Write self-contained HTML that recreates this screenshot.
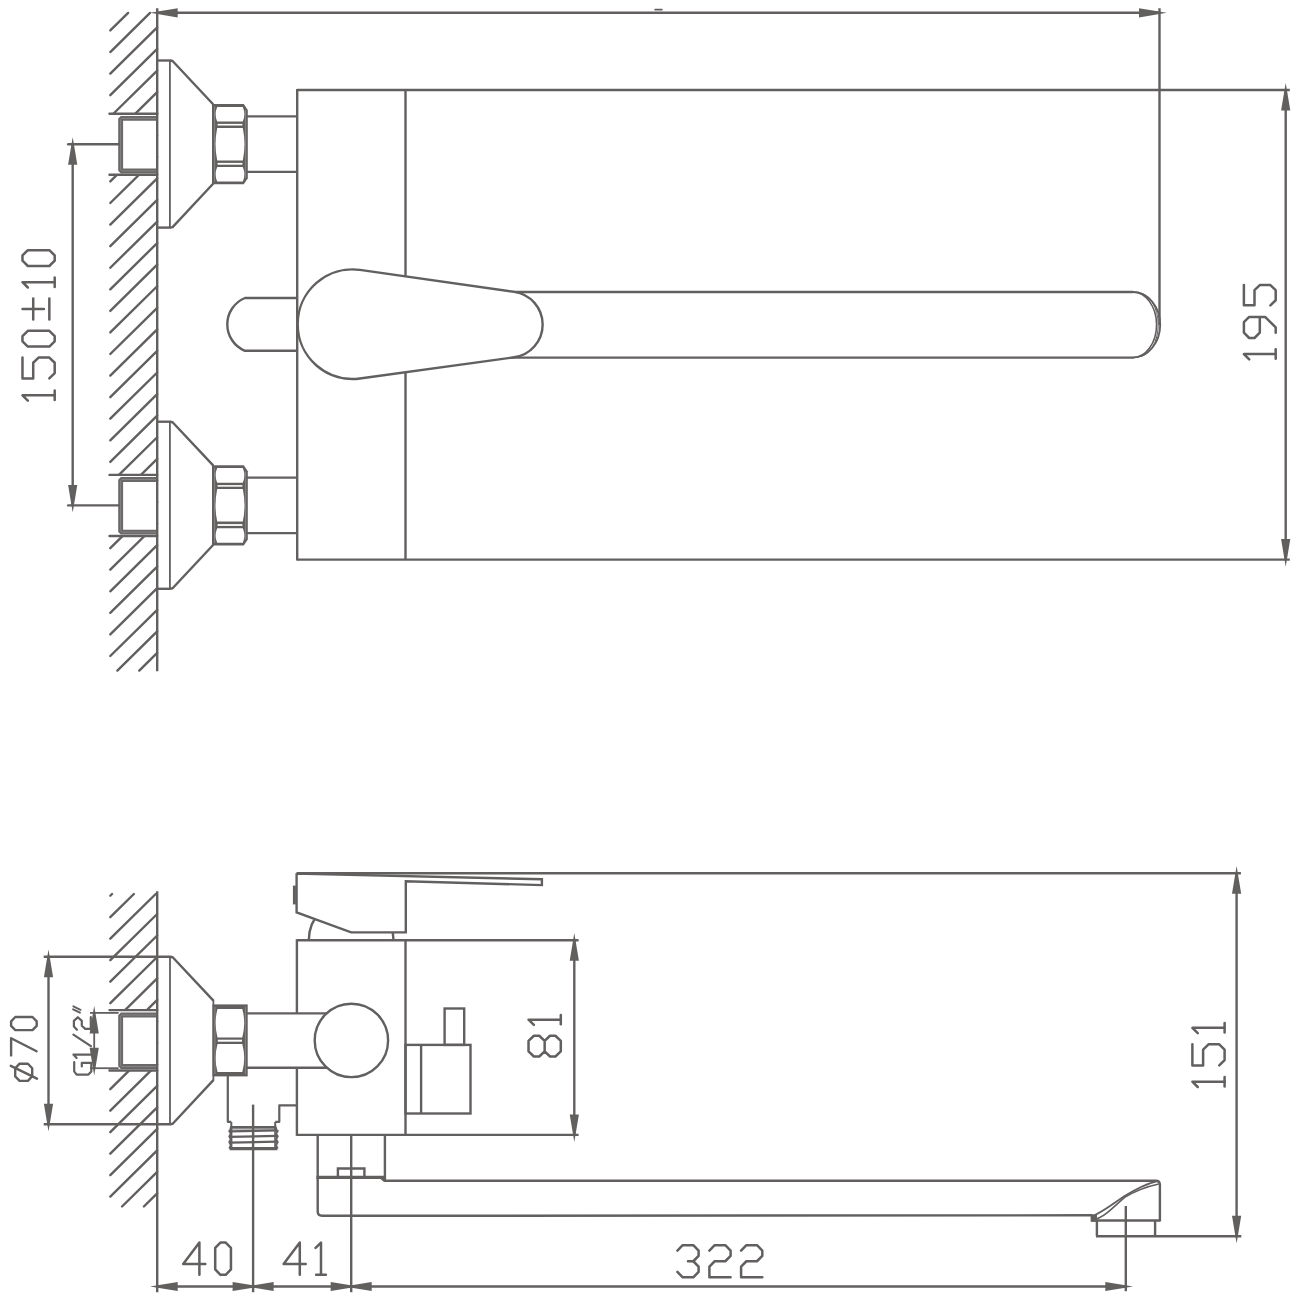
<!DOCTYPE html>
<html><head><meta charset="utf-8"><title>Drawing</title>
<style>
html,body{margin:0;padding:0;background:#fff;}
body{width:1300px;height:1300px;overflow:hidden;font-family:"Liberation Sans",sans-serif;}
svg{display:block;}
</style></head><body>
<svg width="1300" height="1300" viewBox="0 0 1300 1300" fill="none" stroke="#625f5f">
<rect x="0" y="0" width="1300" height="1300" fill="#fff" stroke="none"/>
<line x1="128.12" y1="12.90" x2="110.30" y2="30.46" stroke-width="2.4" stroke-linecap="round"/>
<line x1="150.02" y1="12.90" x2="110.30" y2="52.03" stroke-width="2.4" stroke-linecap="round"/>
<line x1="157.20" y1="27.40" x2="110.30" y2="73.60" stroke-width="2.4" stroke-linecap="round"/>
<line x1="157.20" y1="48.97" x2="110.30" y2="95.17" stroke-width="2.4" stroke-linecap="round"/>
<line x1="157.20" y1="70.54" x2="110.30" y2="116.74" stroke-width="2.4" stroke-linecap="round"/>
<line x1="157.20" y1="92.11" x2="110.30" y2="138.31" stroke-width="2.4" stroke-linecap="round"/>
<line x1="157.20" y1="113.68" x2="110.30" y2="159.88" stroke-width="2.4" stroke-linecap="round"/>
<line x1="157.20" y1="135.25" x2="110.30" y2="181.45" stroke-width="2.4" stroke-linecap="round"/>
<line x1="157.20" y1="156.82" x2="110.30" y2="203.02" stroke-width="2.4" stroke-linecap="round"/>
<line x1="157.20" y1="178.39" x2="110.30" y2="224.59" stroke-width="2.4" stroke-linecap="round"/>
<line x1="157.20" y1="199.96" x2="110.30" y2="246.16" stroke-width="2.4" stroke-linecap="round"/>
<line x1="157.20" y1="221.53" x2="110.30" y2="267.73" stroke-width="2.4" stroke-linecap="round"/>
<line x1="157.20" y1="243.10" x2="110.30" y2="289.30" stroke-width="2.4" stroke-linecap="round"/>
<line x1="157.20" y1="264.67" x2="110.30" y2="310.87" stroke-width="2.4" stroke-linecap="round"/>
<line x1="157.20" y1="286.24" x2="110.30" y2="332.44" stroke-width="2.4" stroke-linecap="round"/>
<line x1="157.20" y1="307.81" x2="110.30" y2="354.01" stroke-width="2.4" stroke-linecap="round"/>
<line x1="157.20" y1="329.38" x2="110.30" y2="375.58" stroke-width="2.4" stroke-linecap="round"/>
<line x1="157.20" y1="350.95" x2="110.30" y2="397.15" stroke-width="2.4" stroke-linecap="round"/>
<line x1="157.20" y1="372.52" x2="110.30" y2="418.72" stroke-width="2.4" stroke-linecap="round"/>
<line x1="157.20" y1="394.09" x2="110.30" y2="440.29" stroke-width="2.4" stroke-linecap="round"/>
<line x1="157.20" y1="415.66" x2="110.30" y2="461.86" stroke-width="2.4" stroke-linecap="round"/>
<line x1="157.20" y1="437.23" x2="110.30" y2="483.43" stroke-width="2.4" stroke-linecap="round"/>
<line x1="157.20" y1="458.80" x2="110.30" y2="505.00" stroke-width="2.4" stroke-linecap="round"/>
<line x1="157.20" y1="480.37" x2="110.30" y2="526.57" stroke-width="2.4" stroke-linecap="round"/>
<line x1="157.20" y1="501.94" x2="110.30" y2="548.14" stroke-width="2.4" stroke-linecap="round"/>
<line x1="157.20" y1="523.51" x2="110.30" y2="569.71" stroke-width="2.4" stroke-linecap="round"/>
<line x1="157.20" y1="545.08" x2="110.30" y2="591.28" stroke-width="2.4" stroke-linecap="round"/>
<line x1="157.20" y1="566.65" x2="110.30" y2="612.85" stroke-width="2.4" stroke-linecap="round"/>
<line x1="157.20" y1="588.22" x2="110.30" y2="634.42" stroke-width="2.4" stroke-linecap="round"/>
<line x1="157.20" y1="609.79" x2="110.30" y2="655.99" stroke-width="2.4" stroke-linecap="round"/>
<line x1="157.20" y1="631.36" x2="117.36" y2="670.60" stroke-width="2.4" stroke-linecap="round"/>
<line x1="157.20" y1="652.93" x2="139.26" y2="670.60" stroke-width="2.4" stroke-linecap="round"/>
<rect x="106.30" y="113.80" width="50.90" height="60.90" fill="#fff" stroke="none"/>
<line x1="109.50" y1="113.70" x2="157.20" y2="113.70" stroke-width="2.4" stroke-linecap="round"/>
<line x1="109.50" y1="174.80" x2="157.20" y2="174.80" stroke-width="2.4" stroke-linecap="round"/>
<path d="M157.2,118.35 L121.85,118.35 L120.65,119.55 L120.65,169.75 L121.85,170.95 L157.2,170.95" fill="none" stroke="#6a6868" stroke-width="4.9" stroke-linejoin="miter"/>
<path d="M157.2,118.35 L121.85,118.35 L120.65,119.55 L120.65,169.75 L121.85,170.95 L157.2,170.95" fill="none" stroke="#8a8888" stroke-width="0.9"/>
<line x1="68.20" y1="144.20" x2="118.80" y2="144.20" stroke-width="2.4" stroke-linecap="round"/>
<line x1="157.20" y1="60.50" x2="170.50" y2="60.50" stroke-width="2.4" stroke-linecap="butt"/>
<line x1="157.20" y1="227.60" x2="170.50" y2="227.60" stroke-width="2.4" stroke-linecap="butt"/>
<line x1="169.90" y1="60.50" x2="169.90" y2="227.60" stroke-width="1.8" stroke-linecap="butt"/>
<path d="M169.9,60.5 L172.6,61.0 L213.1,104.2" fill="none" stroke-width="2.4" stroke-linecap="butt" stroke-linejoin="round"/>
<path d="M169.9,227.6 L172.6,227.1 L213.1,183.8" fill="none" stroke-width="2.4" stroke-linecap="butt" stroke-linejoin="round"/>
<line x1="213.10" y1="103.40" x2="213.10" y2="184.60" stroke-width="1.8" stroke-linecap="butt"/>
<polygon points="212.0,104.00 243.8,104.00 247.8,110.00 247.8,178.30 243.8,184.30 212.0,184.30" fill="#625f5f" stroke="none"/>
<path d="M217.20,106.90 Q214.00,114.25 217.20,121.60 L242.80,121.60 Q246.00,114.25 242.80,106.90 Z" fill="#fff" stroke="none"/>
<path d="M217.20,127.90 Q213.80,144.15 217.20,160.40 L242.80,160.40 Q246.20,144.15 242.80,127.90 Z" fill="#fff" stroke="none"/>
<path d="M217.20,167.00 Q214.00,174.30 217.20,181.60 L242.80,181.60 Q246.00,174.30 242.80,167.00 Z" fill="#fff" stroke="none"/>
<rect x="217.60" y="123.90" width="24.80" height="1.60" fill="#fff" stroke="none"/>
<rect x="217.60" y="162.90" width="24.80" height="1.80" fill="#fff" stroke="none"/>
<line x1="214.60" y1="106.50" x2="214.60" y2="181.80" stroke="#9a9898" stroke-width="0.7"/>
<line x1="245.60" y1="110.00" x2="245.60" y2="178.30" stroke="#9a9898" stroke-width="0.7"/>
<line x1="246.60" y1="116.40" x2="297.20" y2="116.40" stroke-width="2.4" stroke-linecap="butt"/>
<line x1="246.60" y1="171.90" x2="297.20" y2="171.90" stroke-width="2.4" stroke-linecap="butt"/>
<rect x="106.30" y="475.00" width="50.90" height="60.90" fill="#fff" stroke="none"/>
<line x1="109.50" y1="474.90" x2="157.20" y2="474.90" stroke-width="2.4" stroke-linecap="round"/>
<line x1="109.50" y1="536.00" x2="157.20" y2="536.00" stroke-width="2.4" stroke-linecap="round"/>
<path d="M157.2,479.55 L121.85,479.55 L120.65,480.75 L120.65,530.95 L121.85,532.15 L157.2,532.15" fill="none" stroke="#6a6868" stroke-width="4.9" stroke-linejoin="miter"/>
<path d="M157.2,479.55 L121.85,479.55 L120.65,480.75 L120.65,530.95 L121.85,532.15 L157.2,532.15" fill="none" stroke="#8a8888" stroke-width="0.9"/>
<line x1="68.20" y1="505.40" x2="118.80" y2="505.40" stroke-width="2.4" stroke-linecap="round"/>
<line x1="157.20" y1="421.70" x2="170.50" y2="421.70" stroke-width="2.4" stroke-linecap="butt"/>
<line x1="157.20" y1="588.80" x2="170.50" y2="588.80" stroke-width="2.4" stroke-linecap="butt"/>
<line x1="169.90" y1="421.70" x2="169.90" y2="588.80" stroke-width="1.8" stroke-linecap="butt"/>
<path d="M169.9,421.7 L172.6,422.2 L213.1,465.4" fill="none" stroke-width="2.4" stroke-linecap="butt" stroke-linejoin="round"/>
<path d="M169.9,588.8 L172.6,588.3 L213.1,545.0" fill="none" stroke-width="2.4" stroke-linecap="butt" stroke-linejoin="round"/>
<line x1="213.10" y1="464.60" x2="213.10" y2="545.80" stroke-width="1.8" stroke-linecap="butt"/>
<polygon points="212.0,465.20 243.8,465.20 247.8,471.20 247.8,539.50 243.8,545.50 212.0,545.50" fill="#625f5f" stroke="none"/>
<path d="M217.20,468.10 Q214.00,475.45 217.20,482.80 L242.80,482.80 Q246.00,475.45 242.80,468.10 Z" fill="#fff" stroke="none"/>
<path d="M217.20,489.10 Q213.80,505.35 217.20,521.60 L242.80,521.60 Q246.20,505.35 242.80,489.10 Z" fill="#fff" stroke="none"/>
<path d="M217.20,528.20 Q214.00,535.50 217.20,542.80 L242.80,542.80 Q246.00,535.50 242.80,528.20 Z" fill="#fff" stroke="none"/>
<rect x="217.60" y="485.10" width="24.80" height="1.60" fill="#fff" stroke="none"/>
<rect x="217.60" y="524.10" width="24.80" height="1.80" fill="#fff" stroke="none"/>
<line x1="214.60" y1="467.70" x2="214.60" y2="543.00" stroke="#9a9898" stroke-width="0.7"/>
<line x1="245.60" y1="471.20" x2="245.60" y2="539.50" stroke="#9a9898" stroke-width="0.7"/>
<line x1="246.60" y1="477.60" x2="297.20" y2="477.60" stroke-width="2.4" stroke-linecap="butt"/>
<line x1="246.60" y1="533.10" x2="297.20" y2="533.10" stroke-width="2.4" stroke-linecap="butt"/>
<line x1="157.20" y1="8.30" x2="157.20" y2="671.20" stroke-width="2.4" stroke-linecap="butt"/>
<line x1="297.20" y1="90.00" x2="1289.80" y2="90.00" stroke-width="2.4" stroke-linecap="butt"/>
<line x1="297.20" y1="559.60" x2="1289.80" y2="559.60" stroke-width="2.4" stroke-linecap="butt"/>
<line x1="297.20" y1="89.00" x2="297.20" y2="560.60" stroke-width="2.4" stroke-linecap="butt"/>
<line x1="405.50" y1="90.00" x2="405.50" y2="559.60" stroke-width="2.4" stroke-linecap="butt"/>
<path d="M297.2,298.0 L244.9,298.0 A28.6,28.6 0 0 0 244.9,350.8 L297.2,350.8" fill="none" stroke-width="2.4" stroke-linecap="butt" stroke-linejoin="miter"/>
<line x1="505.00" y1="292.00" x2="1133.00" y2="292.00" stroke-width="2.4" stroke-linecap="butt"/>
<line x1="505.00" y1="357.60" x2="1133.00" y2="357.60" stroke-width="2.4" stroke-linecap="butt"/>
<path d="M1132.6,292.0 A27.6,32.8 0 0 1 1132.6,357.6" fill="none" stroke-width="1.9" stroke-linecap="butt" stroke-linejoin="miter"/>
<path d="M1132.6,292.0 A24.0,32.8 0 0 1 1132.6,357.6" fill="none" stroke-width="1.6" stroke-linecap="butt" stroke-linejoin="miter"/>
<path d="M1138,292.8 A20.2,32.0 0 0 1 1138,356.8" fill="none" stroke-width="1.0" stroke-linecap="butt" stroke-linejoin="miter"/>
<path d="M359.9,269.9 L514.1,291.9 A33,33 0 0 1 514.1,357.3 L359.9,378.5 A54.8,54.8 0 1 1 359.9,269.9 Z" fill="#fff" stroke-width="2.4" stroke-linecap="butt" stroke-linejoin="miter"/>
<line x1="1159.50" y1="8.30" x2="1159.50" y2="325.00" stroke-width="2.4" stroke-linecap="butt"/>
<line x1="157.20" y1="12.80" x2="1159.50" y2="12.80" stroke-width="2.4" stroke-linecap="butt"/>
<polygon points="150.00,12.80 177.70,8.20 177.70,17.40" fill="#625f5f" stroke="none"/>
<polygon points="1166.70,12.80 1139.00,8.20 1139.00,17.40" fill="#625f5f" stroke="none"/>
<line x1="655.20" y1="9.60" x2="661.80" y2="9.60" stroke-width="1.9" stroke-linecap="round"/>
<line x1="1285.70" y1="90.00" x2="1285.70" y2="559.60" stroke-width="2.4" stroke-linecap="butt"/>
<polygon points="1285.70,82.80 1281.10,110.50 1290.30,110.50" fill="#625f5f" stroke="none"/>
<polygon points="1285.70,566.80 1281.10,539.10 1290.30,539.10" fill="#625f5f" stroke="none"/>
<line x1="72.70" y1="144.20" x2="72.70" y2="505.40" stroke-width="2.4" stroke-linecap="butt"/>
<polygon points="72.70,137.00 68.10,164.70 77.30,164.70" fill="#625f5f" stroke="none"/>
<polygon points="72.70,512.60 68.10,484.90 77.30,484.90" fill="#625f5f" stroke="none"/>
<path d="M27.85,400.60 L22.48,395.33 L54.70,395.33" fill="none" stroke-width="2.5" stroke-linecap="round" stroke-linejoin="round"/>
<path d="M54.70,400.07 L54.70,390.59" fill="none" stroke-width="2.5" stroke-linecap="round" stroke-linejoin="round"/>
<path d="M22.48,357.53 L22.48,378.40 L33.22,378.40 L33.22,362.75 L38.59,357.53 L49.33,357.53 L54.70,362.75 L54.70,373.18 L49.33,378.40" fill="none" stroke-width="2.5" stroke-linecap="round" stroke-linejoin="round"/>
<path d="M54.70,341.33 L54.70,336.06 L49.33,330.79 L27.85,330.79 L22.48,336.06 L22.48,341.33 L27.85,346.60 L49.33,346.60 L54.70,341.33" fill="none" stroke-width="2.5" stroke-linecap="round" stroke-linejoin="round"/>
<path d="M33.22,319.60 L33.22,298.52" fill="none" stroke-width="2.5" stroke-linecap="round" stroke-linejoin="round"/>
<path d="M43.96,309.06 L22.48,309.06" fill="none" stroke-width="2.5" stroke-linecap="round" stroke-linejoin="round"/>
<path d="M49.33,319.60 L49.33,298.52" fill="none" stroke-width="2.5" stroke-linecap="round" stroke-linejoin="round"/>
<path d="M27.85,287.50 L22.48,282.23 L54.70,282.23" fill="none" stroke-width="2.5" stroke-linecap="round" stroke-linejoin="round"/>
<path d="M54.70,286.97 L54.70,277.49" fill="none" stroke-width="2.5" stroke-linecap="round" stroke-linejoin="round"/>
<path d="M54.70,260.73 L54.70,255.46 L49.33,250.19 L27.85,250.19 L22.48,255.46 L22.48,260.73 L27.85,266.00 L49.33,266.00 L54.70,260.73" fill="none" stroke-width="2.5" stroke-linecap="round" stroke-linejoin="round"/>
<path d="M1249.20,359.30 L1243.90,354.03 L1275.70,354.03" fill="none" stroke-width="2.5" stroke-linecap="round" stroke-linejoin="round"/>
<path d="M1275.70,358.77 L1275.70,349.29" fill="none" stroke-width="2.5" stroke-linecap="round" stroke-linejoin="round"/>
<path d="M1275.70,332.73 L1275.70,327.46 L1265.10,316.92 L1249.20,316.92 L1243.90,322.19 L1243.90,332.73 L1249.20,338.00 L1254.50,338.00 L1259.80,332.73 L1259.80,316.92" fill="none" stroke-width="2.5" stroke-linecap="round" stroke-linejoin="round"/>
<path d="M1243.90,285.06 L1243.90,305.30 L1254.50,305.30 L1254.50,290.12 L1259.80,285.06 L1270.40,285.06 L1275.70,290.12 L1275.70,300.24 L1270.40,305.30" fill="none" stroke-width="2.5" stroke-linecap="round" stroke-linejoin="round"/>
<line x1="112.05" y1="894.00" x2="110.30" y2="895.73" stroke-width="2.4" stroke-linecap="round"/>
<line x1="133.87" y1="894.00" x2="110.30" y2="917.22" stroke-width="2.4" stroke-linecap="round"/>
<line x1="155.69" y1="894.00" x2="110.30" y2="938.71" stroke-width="2.4" stroke-linecap="round"/>
<line x1="157.20" y1="914.00" x2="110.30" y2="960.20" stroke-width="2.4" stroke-linecap="round"/>
<line x1="157.20" y1="935.49" x2="110.30" y2="981.69" stroke-width="2.4" stroke-linecap="round"/>
<line x1="157.20" y1="956.98" x2="110.30" y2="1003.18" stroke-width="2.4" stroke-linecap="round"/>
<line x1="157.20" y1="978.47" x2="110.30" y2="1024.67" stroke-width="2.4" stroke-linecap="round"/>
<line x1="157.20" y1="999.96" x2="110.30" y2="1046.16" stroke-width="2.4" stroke-linecap="round"/>
<line x1="157.20" y1="1021.45" x2="110.30" y2="1067.65" stroke-width="2.4" stroke-linecap="round"/>
<line x1="157.20" y1="1042.94" x2="110.30" y2="1089.14" stroke-width="2.4" stroke-linecap="round"/>
<line x1="157.20" y1="1064.43" x2="110.30" y2="1110.63" stroke-width="2.4" stroke-linecap="round"/>
<line x1="157.20" y1="1085.92" x2="110.30" y2="1132.12" stroke-width="2.4" stroke-linecap="round"/>
<line x1="157.20" y1="1107.41" x2="110.30" y2="1153.61" stroke-width="2.4" stroke-linecap="round"/>
<line x1="157.20" y1="1128.90" x2="110.30" y2="1175.10" stroke-width="2.4" stroke-linecap="round"/>
<line x1="157.20" y1="1150.39" x2="110.30" y2="1196.59" stroke-width="2.4" stroke-linecap="round"/>
<line x1="157.20" y1="1171.88" x2="122.05" y2="1206.50" stroke-width="2.4" stroke-linecap="round"/>
<line x1="157.20" y1="1193.37" x2="143.87" y2="1206.50" stroke-width="2.4" stroke-linecap="round"/>
<rect x="106.30" y="1010.10" width="50.90" height="60.40" fill="#fff" stroke="none"/>
<line x1="109.50" y1="1010.10" x2="157.20" y2="1010.10" stroke-width="2.4" stroke-linecap="round"/>
<line x1="109.50" y1="1070.50" x2="157.20" y2="1070.50" stroke-width="2.4" stroke-linecap="round"/>
<path d="M157.2,1015.05 L121.85,1015.05 L120.65,1016.25 L120.65,1065.35 L121.85,1066.55 L157.2,1066.55" fill="none" stroke="#6a6868" stroke-width="4.9" stroke-linejoin="miter"/>
<path d="M157.2,1015.05 L121.85,1015.05 L120.65,1016.25 L120.65,1065.35 L121.85,1066.55 L157.2,1066.55" fill="none" stroke="#8a8888" stroke-width="0.9"/>
<line x1="90.00" y1="1012.90" x2="118.60" y2="1012.90" stroke-width="1.8" stroke-linecap="butt"/>
<line x1="90.00" y1="1068.20" x2="118.60" y2="1068.20" stroke-width="1.8" stroke-linecap="butt"/>
<line x1="94.20" y1="1012.90" x2="94.20" y2="1068.20" stroke-width="1.8" stroke-linecap="butt"/>
<polygon points="94.20,1005.70 89.60,1033.40 98.80,1033.40" fill="#625f5f" stroke="none"/>
<polygon points="94.20,1075.40 89.60,1047.70 98.80,1047.70" fill="#625f5f" stroke="none"/>
<path d="M74.2,1062.2 L74.2,1071.4 L76.6,1074.6 L88.4,1074.6 L91.3,1071.4 L91.3,1062.9 L81.8,1062.9 L81.8,1066.4" fill="none" stroke-width="2.2" stroke-linecap="round" stroke-linejoin="round"/>
<path d="M76.6,1058.0 L73.4,1054.6 L90.9,1054.6" fill="none" stroke-width="2.2" stroke-linecap="round" stroke-linejoin="round"/>
<path d="M90.9,1046.2 L73.4,1034.6" fill="none" stroke-width="2.2" stroke-linecap="round" stroke-linejoin="miter"/>
<path d="M76.9,1029.7 L73.9,1026.5 L73.9,1020.9 L77.8,1017.2 L81.8,1020.9 L81.8,1025.8 L85.2,1028.9 L90.8,1028.9 L90.8,1017.2" fill="none" stroke-width="2.2" stroke-linecap="round" stroke-linejoin="round"/>
<path d="M73.4,1006.3 L80.5,1009.8" fill="none" stroke-width="2.0" stroke-linecap="round" stroke-linejoin="miter"/>
<path d="M73.1,1009.3 L79.9,1012.6" fill="none" stroke-width="2.0" stroke-linecap="round" stroke-linejoin="miter"/>
<line x1="43.70" y1="956.80" x2="170.50" y2="956.80" stroke-width="2.4" stroke-linecap="butt"/>
<line x1="43.70" y1="1124.30" x2="170.50" y2="1124.30" stroke-width="2.4" stroke-linecap="butt"/>
<line x1="48.50" y1="956.80" x2="48.50" y2="1124.30" stroke-width="2.4" stroke-linecap="butt"/>
<polygon points="48.50,949.60 43.90,977.30 53.10,977.30" fill="#625f5f" stroke="none"/>
<polygon points="48.50,1131.50 43.90,1103.80 53.10,1103.80" fill="#625f5f" stroke="none"/>
<path d="M19.6,1063.7 L27.9,1063.7 L32.2,1068.3 L32.2,1076.3 L27.9,1080.9 L19.6,1080.9 L15.2,1076.3 L15.2,1068.3 Z" fill="none" stroke-width="2.4" stroke-linecap="butt" stroke-linejoin="round"/>
<path d="M10.8,1065.8 L37.0,1078.7" fill="none" stroke-width="2.4" stroke-linecap="round" stroke-linejoin="miter"/>
<path d="M11.1,1055.4 L11.1,1038.3 L36.6,1051.2" fill="none" stroke-width="2.4" stroke-linecap="round" stroke-linejoin="round"/>
<path d="M15.3,1017.0 L32.5,1017.0 L36.7,1021.3 L36.7,1025.9 L32.5,1030.1 L15.3,1030.1 L11.1,1025.9 L11.1,1021.3 Z" fill="none" stroke-width="2.4" stroke-linecap="butt" stroke-linejoin="round"/>
<line x1="170.00" y1="956.80" x2="170.00" y2="1124.30" stroke-width="1.8" stroke-linecap="butt"/>
<path d="M170.0,956.8 L172.7,957.3 L213.4,1000.6" fill="none" stroke-width="2.4" stroke-linecap="butt" stroke-linejoin="round"/>
<path d="M170.0,1124.3 L172.7,1123.8 L213.4,1080.1" fill="none" stroke-width="2.4" stroke-linecap="butt" stroke-linejoin="round"/>
<line x1="213.40" y1="999.80" x2="213.40" y2="1080.90" stroke-width="1.8" stroke-linecap="butt"/>
<rect x="212.5" y="1004.4" width="35.2" height="72.0" fill="#625f5f" stroke="none"/>
<path d="M217.50,1008.90 Q213.70,1023.15 217.50,1037.40 L242.30,1037.40 Q246.10,1023.15 242.30,1008.90 Z" fill="#fff" stroke="none"/>
<path d="M217.50,1043.90 Q213.70,1057.90 217.50,1071.90 L242.30,1071.90 Q246.10,1057.90 242.30,1043.90 Z" fill="#fff" stroke="none"/>
<rect x="217.80" y="1039.70" width="24.20" height="2.00" fill="#fff" stroke="none"/>
<line x1="214.90" y1="1007.00" x2="214.90" y2="1074.00" stroke="#9a9898" stroke-width="0.7"/>
<line x1="245.40" y1="1007.00" x2="245.40" y2="1074.00" stroke="#9a9898" stroke-width="0.7"/>
<line x1="246.60" y1="1013.40" x2="330.00" y2="1013.40" stroke-width="2.4" stroke-linecap="butt"/>
<line x1="246.60" y1="1067.70" x2="330.00" y2="1067.70" stroke-width="2.4" stroke-linecap="butt"/>
<line x1="296.90" y1="940.20" x2="578.60" y2="940.20" stroke-width="2.4" stroke-linecap="butt"/>
<line x1="296.90" y1="1134.90" x2="578.60" y2="1134.90" stroke-width="2.4" stroke-linecap="butt"/>
<line x1="296.90" y1="939.20" x2="296.90" y2="1013.40" stroke-width="2.4" stroke-linecap="butt"/>
<line x1="296.90" y1="1067.70" x2="296.90" y2="1135.90" stroke-width="2.4" stroke-linecap="butt"/>
<line x1="405.50" y1="940.20" x2="405.50" y2="1134.90" stroke-width="2.4" stroke-linecap="butt"/>
<circle cx="351.4" cy="1040.4" r="36.7" fill="#fff" stroke-width="2.4"/>
<clipPath id="cd"><rect x="290" y="890" width="130" height="50.2"/></clipPath>
<circle cx="351.15" cy="940.6" r="42.4" fill="none" stroke-width="2.4" clip-path="url(#cd)"/>
<line x1="296.60" y1="873.20" x2="1240.90" y2="873.20" stroke-width="2.4" stroke-linecap="butt"/>
<path d="M296.6,873.2 L296.6,912.3 L351.1,932.4 L405.8,932.4 L405.8,881.2 L541.9,885.1 L541.9,879.2 L296.6,873.6 Z" fill="#fff" stroke-width="2.4" stroke-linecap="butt" stroke-linejoin="miter"/>
<line x1="294.40" y1="885.60" x2="294.40" y2="904.40" stroke-width="3.0" stroke-linecap="butt"/>
<line x1="574.30" y1="940.20" x2="574.30" y2="1134.90" stroke-width="2.4" stroke-linecap="butt"/>
<polygon points="574.30,933.00 569.70,960.70 578.90,960.70" fill="#625f5f" stroke="none"/>
<polygon points="574.30,1142.10 569.70,1114.40 578.90,1114.40" fill="#625f5f" stroke="none"/>
<path d="M544.66,1051.31 L539.28,1056.50 L533.90,1056.50 L528.52,1051.31 L528.52,1040.93 L533.90,1035.74 L539.28,1035.74 L544.66,1040.93 L544.66,1051.31 L550.04,1056.50 L555.42,1056.50 L560.80,1051.31 L560.80,1040.93 L555.42,1035.74 L550.04,1035.74 L544.66,1040.93" fill="none" stroke-width="2.5" stroke-linecap="round" stroke-linejoin="round"/>
<path d="M533.90,1024.90 L528.52,1019.63 L560.80,1019.63" fill="none" stroke-width="2.5" stroke-linecap="round" stroke-linejoin="round"/>
<path d="M560.80,1024.37 L560.80,1014.89" fill="none" stroke-width="2.5" stroke-linecap="round" stroke-linejoin="round"/>
<rect x="405.50" y="1044.90" width="65.00" height="68.60" fill="none" stroke-width="2.4"/>
<line x1="421.10" y1="1044.90" x2="421.10" y2="1113.50" stroke-width="2.4" stroke-linecap="butt"/>
<rect x="444.60" y="1008.50" width="19.60" height="36.40" fill="none" stroke-width="2.4"/>
<path d="M227.8,1075.6 L227.8,1121.8 L231.3,1121.8" fill="none" stroke-width="2.2" stroke-linecap="butt" stroke-linejoin="round"/>
<path d="M296.9,1105.3 L279.3,1105.3 L279.3,1121.8 L275.2,1121.8" fill="none" stroke-width="2.2" stroke-linecap="butt" stroke-linejoin="round"/>
<line x1="231.30" y1="1127.20" x2="275.20" y2="1127.20" stroke-width="2.3" stroke-linecap="butt"/>
<line x1="229.60" y1="1131.40" x2="277.40" y2="1130.40" stroke-width="2.2" stroke-linecap="butt"/>
<line x1="229.60" y1="1136.90" x2="277.40" y2="1135.90" stroke-width="2.2" stroke-linecap="butt"/>
<line x1="229.60" y1="1142.60" x2="277.40" y2="1141.60" stroke-width="2.2" stroke-linecap="butt"/>
<line x1="229.60" y1="1148.60" x2="277.40" y2="1148.60" stroke-width="3.4" stroke-linecap="butt"/>
<line x1="231.00" y1="1128.90" x2="275.50" y2="1128.90" stroke-width="1.0" stroke-linecap="butt"/>
<path d="M231.3,1122.1 L231.3,1126 L230.5,1128.7 L230.9,1129.9 L229.3,1130.9 L230.9,1133.7 L229.3,1136.4 L230.9,1139.2 L229.3,1142.1 L230.9,1145.3 L229.3,1148.6" fill="none" stroke-width="2.0" stroke-linecap="butt" stroke-linejoin="round"/>
<path d="M275.2,1122.1 L275.2,1126 L276.2,1128.7 L276.0,1129.9 L277.7,1130.9 L276.0,1133.7 L277.7,1136.4 L276.0,1139.2 L277.7,1142.1 L276.0,1145.3 L277.7,1148.6" fill="none" stroke-width="2.0" stroke-linecap="butt" stroke-linejoin="round"/>
<line x1="231.60" y1="1126.00" x2="231.60" y2="1149.00" stroke-width="1.6" stroke-linecap="butt"/>
<line x1="275.00" y1="1126.00" x2="275.00" y2="1149.00" stroke-width="1.6" stroke-linecap="butt"/>
<line x1="253.10" y1="1104.60" x2="253.10" y2="1292.20" stroke-width="2.4" stroke-linecap="butt"/>
<line x1="317.70" y1="1134.90" x2="317.70" y2="1177.30" stroke-width="2.4" stroke-linecap="butt"/>
<line x1="384.90" y1="1134.90" x2="384.90" y2="1180.60" stroke-width="2.4" stroke-linecap="butt"/>
<line x1="316.40" y1="1177.30" x2="385.60" y2="1177.30" stroke-width="3.3" stroke-linecap="butt"/>
<path d="M337.9,1177.3 L337.9,1168.5 L364.4,1168.5 L364.4,1177.3" fill="none" stroke-width="2.4" stroke-linecap="butt" stroke-linejoin="miter"/>
<line x1="351.20" y1="1134.90" x2="351.20" y2="1292.20" stroke-width="2.4" stroke-linecap="butt"/>
<path d="M317.7,1177.3 L317.7,1211.6 Q317.7,1215.8 322.0,1215.8 L1092.5,1215.3" fill="none" stroke-width="2.4" stroke-linecap="butt" stroke-linejoin="miter"/>
<path d="M381.3,1178.0 L384.2,1180.7 L1155.6,1180.8 Q1159.9,1180.8 1159.9,1185.0 L1159.9,1221.4" fill="none" stroke-width="2.4" stroke-linecap="butt" stroke-linejoin="round"/>
<path d="M1092.5,1216.2 Q1100,1212.8 1110,1206 L1124.6,1196.1 Q1143,1184.5 1156.5,1181.3" fill="none" stroke-width="1.8" stroke-linecap="butt" stroke-linejoin="miter"/>
<path d="M1095.5,1219.2 Q1103,1217 1112,1208.6 L1124.6,1197.4 Q1140,1188 1158.8,1184.0" fill="none" stroke-width="1.6" stroke-linecap="butt" stroke-linejoin="miter"/>
<line x1="1091.20" y1="1220.50" x2="1159.90" y2="1220.50" stroke-width="2.4" stroke-linecap="butt"/>
<rect x="1091.40" y="1215.20" width="4.80" height="5.70" fill="#625f5f" stroke-width="1.5"/>
<line x1="1096.90" y1="1220.50" x2="1096.90" y2="1236.20" stroke-width="2.4" stroke-linecap="butt"/>
<line x1="1155.10" y1="1220.50" x2="1155.10" y2="1236.20" stroke-width="2.4" stroke-linecap="butt"/>
<line x1="1096.00" y1="1236.20" x2="1241.30" y2="1236.20" stroke-width="2.4" stroke-linecap="butt"/>
<line x1="1125.80" y1="1206.00" x2="1125.80" y2="1291.20" stroke-width="2.4" stroke-linecap="butt"/>
<line x1="1236.60" y1="873.20" x2="1236.60" y2="1236.20" stroke-width="2.4" stroke-linecap="butt"/>
<polygon points="1236.60,866.00 1232.00,893.70 1241.20,893.70" fill="#625f5f" stroke="none"/>
<polygon points="1236.60,1243.40 1232.00,1215.70 1241.20,1215.70" fill="#625f5f" stroke="none"/>
<path d="M1197.75,1087.00 L1192.38,1081.73 L1224.60,1081.73" fill="none" stroke-width="2.5" stroke-linecap="round" stroke-linejoin="round"/>
<path d="M1224.60,1086.47 L1224.60,1076.99" fill="none" stroke-width="2.5" stroke-linecap="round" stroke-linejoin="round"/>
<path d="M1192.38,1044.32 L1192.38,1065.40 L1203.12,1065.40 L1203.12,1049.59 L1208.49,1044.32 L1219.23,1044.32 L1224.60,1049.59 L1224.60,1060.13 L1219.23,1065.40" fill="none" stroke-width="2.5" stroke-linecap="round" stroke-linejoin="round"/>
<path d="M1197.75,1033.10 L1192.38,1027.83 L1224.60,1027.83" fill="none" stroke-width="2.5" stroke-linecap="round" stroke-linejoin="round"/>
<path d="M1224.60,1032.57 L1224.60,1023.09" fill="none" stroke-width="2.5" stroke-linecap="round" stroke-linejoin="round"/>
<line x1="157.20" y1="891.20" x2="157.20" y2="1292.20" stroke-width="2.4" stroke-linecap="butt"/>
<line x1="157.20" y1="1286.50" x2="1125.80" y2="1286.50" stroke-width="2.4" stroke-linecap="butt"/>
<polygon points="150.00,1286.50 177.70,1281.90 177.70,1291.10" fill="#625f5f" stroke="none"/>
<polygon points="260.30,1286.50 232.60,1281.90 232.60,1291.10" fill="#625f5f" stroke="none"/>
<polygon points="245.90,1286.50 273.60,1281.90 273.60,1291.10" fill="#625f5f" stroke="none"/>
<polygon points="358.40,1286.50 330.70,1281.90 330.70,1291.10" fill="#625f5f" stroke="none"/>
<polygon points="344.00,1286.50 371.70,1281.90 371.70,1291.10" fill="#625f5f" stroke="none"/>
<polygon points="1133.00,1286.50 1105.30,1281.90 1105.30,1291.10" fill="#625f5f" stroke="none"/>
<path d="M199.40,1274.80 L199.40,1242.58 L183.20,1264.06 L205.34,1264.06" fill="none" stroke-width="2.5" stroke-linecap="round" stroke-linejoin="round"/>
<path d="M220.45,1274.80 L225.70,1274.80 L230.95,1269.43 L230.95,1247.95 L225.70,1242.58 L220.45,1242.58 L215.20,1247.95 L215.20,1269.43 L220.45,1274.80" fill="none" stroke-width="2.5" stroke-linecap="round" stroke-linejoin="round"/>
<path d="M299.80,1274.80 L299.80,1242.58 L283.60,1264.06 L305.74,1264.06" fill="none" stroke-width="2.5" stroke-linecap="round" stroke-linejoin="round"/>
<path d="M315.60,1247.95 L321.00,1242.58 L321.00,1274.80" fill="none" stroke-width="2.5" stroke-linecap="round" stroke-linejoin="round"/>
<path d="M316.14,1274.80 L325.86,1274.80" fill="none" stroke-width="2.5" stroke-linecap="round" stroke-linejoin="round"/>
<path d="M677.40,1250.55 L682.70,1245.20 L693.30,1245.20 L698.60,1250.55 L698.60,1255.90 L693.30,1261.25 L688.00,1261.25" fill="none" stroke-width="2.5" stroke-linecap="round" stroke-linejoin="round"/>
<path d="M693.30,1261.25 L698.60,1266.60 L698.60,1271.95 L693.30,1277.30 L682.70,1277.30 L677.40,1271.95" fill="none" stroke-width="2.5" stroke-linecap="round" stroke-linejoin="round"/>
<path d="M709.40,1250.55 L714.70,1245.20 L725.30,1245.20 L730.60,1250.55 L730.60,1255.90 L725.30,1261.25 L714.70,1261.25 L709.40,1266.60 L709.40,1277.30 L730.60,1277.30" fill="none" stroke-width="2.5" stroke-linecap="round" stroke-linejoin="round"/>
<path d="M741.10,1250.55 L746.40,1245.20 L757.00,1245.20 L762.30,1250.55 L762.30,1255.90 L757.00,1261.25 L746.40,1261.25 L741.10,1266.60 L741.10,1277.30 L762.30,1277.30" fill="none" stroke-width="2.5" stroke-linecap="round" stroke-linejoin="round"/>
</svg>
</body></html>
